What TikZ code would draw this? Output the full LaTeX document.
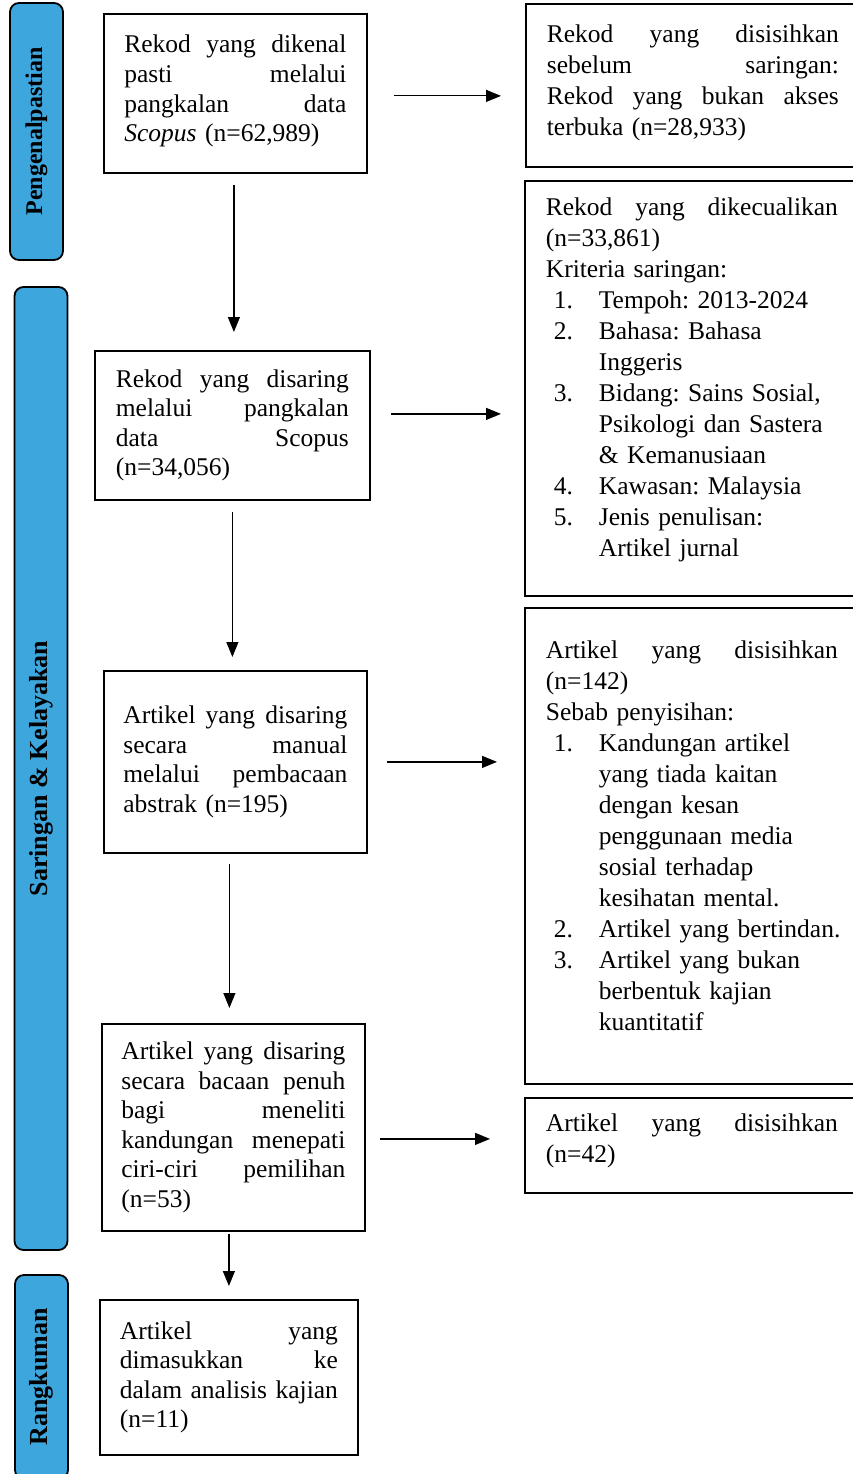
\documentclass[tikz,border=0pt]{standalone}
\usepackage{fontspec}
\setmainfont{Liberation Serif}
\usetikzlibrary{arrows.meta}
\usetikzlibrary{positioning}
\definecolor{stageblue}{RGB}{61,166,221}
\newcommand\itm[1]{\hspace*{8pt}\makebox[45pt][l]{#1}}
\newcommand\cnt{\hspace*{53pt}}
\newcommand\pad[1]{\rule[-#1]{0pt}{#1}}
\frenchspacing
\hyphenpenalty=10000

\begin{document}
\begin{tikzpicture}[x=1pt,y=-1pt,
  stage/.style={draw, line width=1.8pt, fill=stageblue, rounded corners=9pt,
    rotate=90, minimum height=53pt, inner sep=0pt,
    font=\fontsize{26}{30}\selectfont\bfseries},
  stepbox/.style={draw, line width=1.8pt, anchor=north west, inner sep=0pt,
    align=left, font=\fontsize{25.5}{29.6}\selectfont},
  outbox/.style={stepbox, minimum width=334pt, text width=292pt,
    font=\fontsize{25.5}{31}\selectfont},
  arr/.style={line width=1.2pt, -{Triangle[length=15pt,width=12pt]}}]
\useasboundingbox (0,0) rectangle (852,1474);

% phases
\node[stage, minimum width=257pt, font=\fontsize{24}{30}\selectfont\bfseries] (p1) at (36.5,131.5) {Pengenalpastian};
\node[stage, minimum width=963pt] (p2) at (41,768.5) {Saringan \& Kelayakan};
\node[stage, minimum width=204pt] (p3) at (41.5,1377) {Rangkuman};

% main steps
\node[stepbox, minimum width=263pt, minimum height=159pt, text width=222pt] (s1) at (103,13)
  {Rekod\hfill yang\hfill dikenal\\ pasti\hfill melalui\\ pangkalan\hfill data\\ \textit{Scopus} (n=62,989)\pad{10pt}};
\node[stepbox, minimum width=275pt, minimum height=149pt, text width=233pt] (s2) at (94,350)
  {Rekod\hfill yang\hfill disaring\\ melalui\hfill pangkalan\\ data\hfill Scopus\\ (n=34,056)};
\node[stepbox, minimum width=263pt, minimum height=182pt, text width=224pt] (s3) at (103,670)
  {Artikel\hfill yang\hfill disaring\\ secara\hfill manual\\ melalui\hfill pembacaan\\ abstrak (n=195)};
\node[stepbox, minimum width=263pt, minimum height=207pt, text width=224pt] (s4) at (101,1023)
  {Artikel\hfill yang\hfill disaring\\ secara\hfill bacaan\hfill penuh\\ bagi\hfill meneliti\\ kandungan\hfill menepati\\ ciri-ciri\hfill pemilihan\\ (n=53)};
\node[stepbox, minimum width=258pt, minimum height=155pt, text width=218pt] (s5) at (99,1299)
  {Artikel\hfill yang\\ dimasukkan\hfill ke\\ dalam\hfill analisis\hfill kajian\\ (n=11)};

% excluded records
\node[outbox, minimum height=163pt] (x1) at (525,3)
  {Rekod\hfill yang\hfill disisihkan\\ sebelum\hfill saringan:\\ Rekod\hfill yang\hfill bukan\hfill akses\\ terbuka (n=28,933)\pad{10pt}};
\node[outbox, minimum height=415pt] (x2) at (524,180)
  {Rekod\hfill yang\hfill dikecualikan\\ (n=33,861)\\ Kriteria saringan:\\
   \itm{1.}Tempoh: 2013-2024\\
   \itm{2.}Bahasa: Bahasa\\ \cnt Inggeris\\
   \itm{3.}Bidang: Sains Sosial,\\ \cnt Psikologi dan Sastera\\ \cnt\& Kemanusiaan\\
   \itm{4.}Kawasan: Malaysia\\
   \itm{5.}Jenis penulisan:\\ \cnt Artikel jurnal\pad{22pt}};
\node[outbox, minimum height=476pt] (x3) at (524,607)
  {Artikel\hfill yang\hfill disisihkan\\ (n=142)\\ Sebab penyisihan:\\
   \itm{1.}Kandungan artikel\\ \cnt yang tiada kaitan\\ \cnt dengan kesan\\ \cnt penggunaan media\\ \cnt sosial terhadap\\ \cnt kesihatan mental.\\
   \itm{2.}\mbox{Artikel yang bertindan.}\\
   \itm{3.}Artikel yang bukan\\ \cnt berbentuk kajian\\ \cnt kuantitatif\pad{20pt}};
\node[outbox, minimum height=95pt] (x4) at (524,1097)
  {Artikel\hfill yang\hfill disisihkan\\ (n=42)\pad{14pt}};

% flow down
\draw[arr, shorten <=11pt, shorten >=18pt] ([xshift=-1.5pt]s1.south) -- ([xshift=-1.5pt]s1.south |- s2.north);
\draw[arr, shorten <=11pt, shorten >=13pt] (s2.south) -- (s2.south |- s3.north);
\draw[arr, shorten <=10pt, shorten >=15pt] ([xshift=-6pt]s3.south) -- ([xshift=-6pt]s3.south |- s4.north);
\draw[arr, shorten <=2pt, shorten >=13pt] ([xshift=-4.5pt]s4.south) -- ([xshift=-4.5pt]s4.south |- s5.north);

% flow right
\draw[arr, shorten <=26pt, shorten >=24pt] ([yshift=-2.5pt]s1.east) -- ([yshift=-2.5pt]s1.east -| x1.west);
\draw[arr, shorten <=20pt, shorten >=23pt] ([yshift=11.5pt]s2.east) -- ([yshift=11.5pt]s2.east -| x2.west);
\draw[arr, shorten <=19pt, shorten >=27pt] (s3.east) -- (s3.east -| x3.west);
\draw[arr, shorten <=14pt, shorten >=34pt] ([yshift=-11.5pt]s4.east) -- ([yshift=-11.5pt]s4.east -| x4.west);
\end{tikzpicture}
\end{document}
